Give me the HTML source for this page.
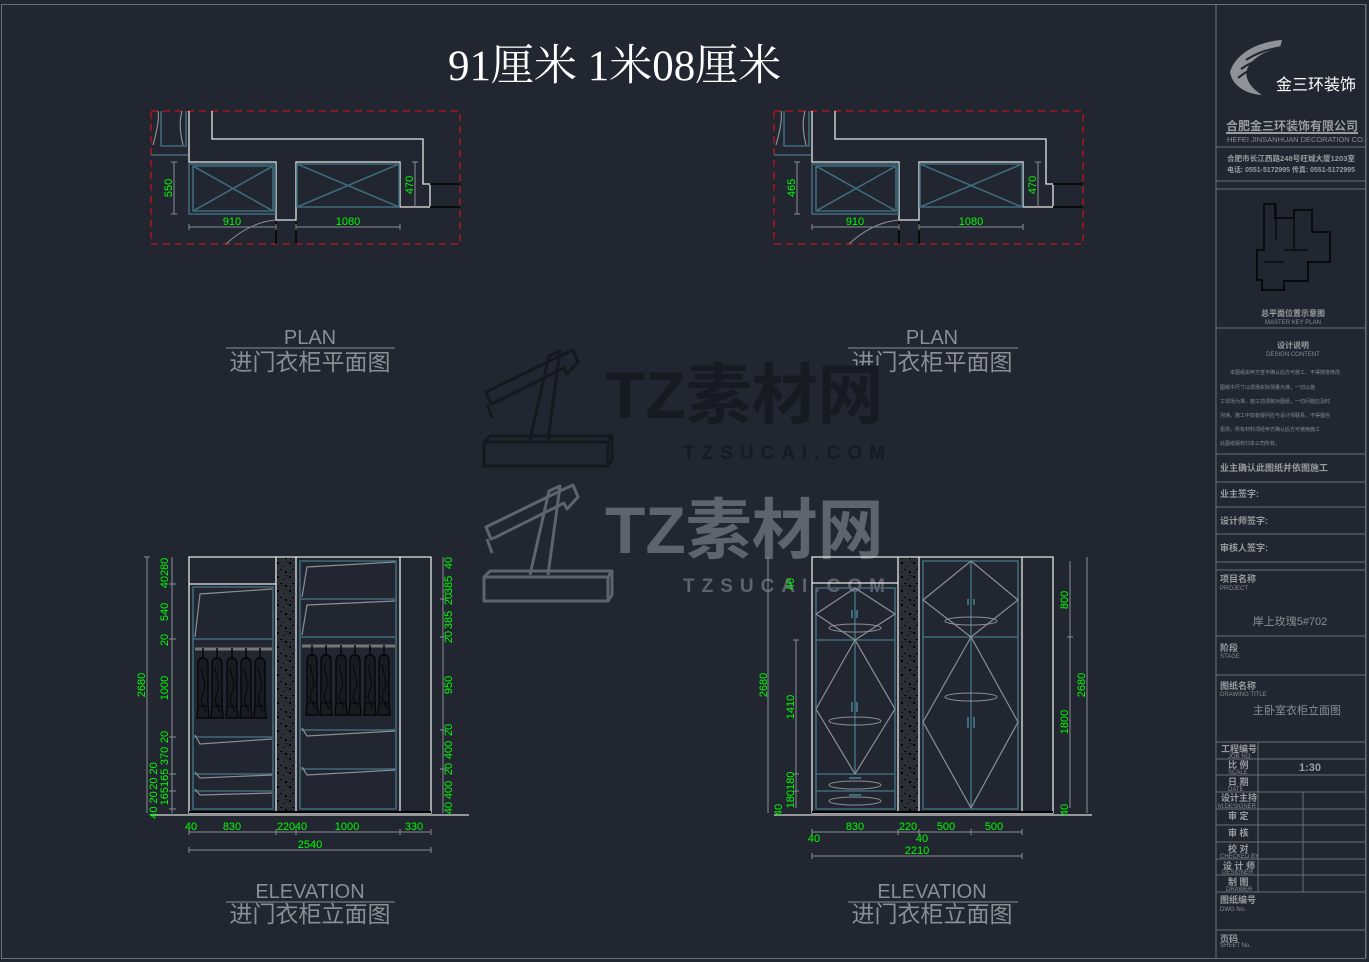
<!DOCTYPE html>
<html><head><meta charset="utf-8"><style>
html,body{margin:0;padding:0;background:#212630;}
svg{display:block;}
text{font-family:"Liberation Sans","Noto Sans CJK SC",sans-serif;}
.g{fill:#00ff00;font-size:11px;}
.w{stroke:#e6e6e6;stroke-width:1.3;fill:none;}
.gr{stroke:#8c8f94;stroke-width:1.2;fill:none;}
.t{stroke:#3f6a7a;stroke-width:1.6;fill:none;}
.dl{stroke:#8c8f94;stroke-width:1;fill:none;}
.tb{fill:#9a9c9f;font-size:9px;font-weight:bold;}
.ts{fill:#8a8c90;font-size:6px;}
</style></head><body>
<svg width="1369" height="962" viewBox="0 0 1369 962" xmlns="http://www.w3.org/2000/svg">
<defs>
<pattern id="sp" width="12" height="14" patternUnits="userSpaceOnUse">
<rect width="12" height="14" fill="#2a2e35"/>
<rect x="1" y="2" width="2" height="2" fill="#000"/><rect x="7" y="5" width="1" height="1" fill="#000"/>
<rect x="4" y="9" width="2" height="1" fill="#000"/><rect x="9" y="11" width="2" height="2" fill="#000"/>
<rect x="2" y="12" width="1" height="1" fill="#000"/><rect x="10" y="1" width="1" height="1" fill="#000"/>
</pattern>
<g id="cloth">
<path d="M0,-8 V2" stroke="#050608" stroke-width="1.5"/>
<path d="M-5,8 Q-5,2 0,2 Q5,2 5,8 L5,50 L6,62 L-6,62 L-5,50 Z" fill="#181b21" stroke="#050608" stroke-width="1.4"/>
<path d="M-2,12 L2,30 L-2,44 L3,56 M-5,50 H5" stroke="#050608" stroke-width="1" fill="none"/>
</g>
</defs>

<rect x="0" y="0" width="1369" height="962" fill="#212630"/>
<rect x="1.5" y="4.5" width="1364" height="954" fill="none" stroke="#6a6d72" stroke-width="1"/>
<line x1="1216" y1="4" x2="1216" y2="958" stroke="#6a6d72"/>

<text x="448" y="80" font-size="43" fill="#ffffff" style="font-family:'Liberation Serif','Noto Serif CJK SC',serif">91厘米 1米08厘米</text>

<!-- plans -->
<g id="pl">
<rect x="151" y="111" width="309" height="133" fill="none" stroke="#c0151b" stroke-width="1.3" stroke-dasharray="7,5"/>
<path class="w" d="M189,111 V162 H276 V220 H296 V162 H400 V207 H430 V184 H423 V139 H212 V111"/>
<path class="t" d="M161,111 V146 H186 V111 M151,155 H188 M189,164 H275 V214 H189 Z M193,166 H273 V211 H193 Z M193,166 L273,211 M273,166 L193,211 M297,164 H399 V207 H297 Z M297,164 L399,207 M399,164 L297,207"/>
<path class="gr" d="M153,145 Q160,120 158,111 M183,145 Q178,125 182,111"/>
<path stroke="#0a0b0e" stroke-width="2" d="M430,184 H460 M430,207 H460 M276,222 V244 M296,222 V244"/>
<path class="dl" d="M226,244 Q250,222 276,220 M174,162 V214 M171,162 H177 M171,214 H177 M189,227 H276 M296,227 H400 M189,224 V230 M276,224 V230 M296,224 V230 M400,224 V230 M415,162 V207 M412,162 H418"/>
<text class="g" x="232" y="225" text-anchor="middle">910</text>
<text class="g" x="348" y="225" text-anchor="middle">1080</text>
<text class="g" transform="translate(413,185) rotate(-90)" text-anchor="middle">470</text>
</g>
<text class="g" transform="translate(172,188) rotate(-90)" text-anchor="middle">550</text>
<use href="#pl" x="623"/>
<text class="g" transform="translate(795,188) rotate(-90)" text-anchor="middle">465</text>

<!-- labels -->
<g fill="#8b8e93" text-anchor="middle">
<text x="310" y="344" font-size="20">PLAN</text><line x1="226" y1="348" x2="395" y2="348" stroke="#8b8e93"/>
<text x="310" y="370" font-size="23">进门衣柜平面图</text>
<text x="932" y="344" font-size="20">PLAN</text><line x1="848" y1="348" x2="1018" y2="348" stroke="#8b8e93"/>
<text x="932" y="370" font-size="23">进门衣柜平面图</text>
<text x="310" y="898" font-size="20">ELEVATION</text><line x1="226" y1="902" x2="395" y2="902" stroke="#8b8e93"/>
<text x="310" y="922" font-size="23">进门衣柜立面图</text>
<text x="932" y="898" font-size="20">ELEVATION</text><line x1="848" y1="902" x2="1018" y2="902" stroke="#8b8e93"/>
<text x="932" y="922" font-size="23">进门衣柜立面图</text>
</g>

<!-- watermarks -->
<g id="wm" fill="none" stroke-width="3" stroke-linejoin="round">
<path d="M491,404 L486,392 L560,356 L573,350 L578,362 L567,374 L564,368 L496,402 Z M492,418 L487,404 M530,440 L549,356 L560,351 L548,440 M484,442 H608 V466 H484 Z M484,442 L490,436 H612 L608,442 M608,466 L612,460 V436"/>
</g>
<g stroke="#15181d"><use href="#wm"/></g>
<text x="605" y="418" font-size="66" font-weight="bold" fill="#171a20">TZ素材网</text>
<text x="683" y="459" font-size="19" font-weight="bold" fill="#171a20" letter-spacing="7">TZSUCAI.COM</text>
<g stroke="#5f636b"><use href="#wm" y="135"/></g>
<text x="605" y="553" font-size="66" font-weight="bold" fill="#5f636b">TZ素材网</text>
<text x="683" y="592" font-size="19" font-weight="bold" fill="#5f636b" letter-spacing="7">TZSUCAI.COM</text>

<!-- left elevation -->
<rect x="276" y="557" width="20" height="256" fill="url(#sp)"/>
<path class="w" d="M189,557 H431 V813 H189 Z M276,557 V813 M296,557 V813 M400,557 V813 M189,584 H276"/>
<line x1="151" y1="815" x2="469" y2="815" stroke="#bbb" stroke-width="1.5"/>
<line x1="189" y1="812" x2="431" y2="812" stroke="#000" stroke-width="2"/>
<path class="t" d="M193,587 H273 V809 H193 Z M193,639 H273 M193,737 H273 M193,774 H273 M193,791 H273"/>
<path class="t" d="M300,561 H396 V809 H300 Z M300,599 H396 M300,637 H396 M300,730 H396 M300,769 H396"/>
<path class="gr" d="M195,637 L200,594 L272,589 M195,735 L200,744 L272,739 M195,772 L200,778 L272,775 M195,789 L200,795 L272,793 M302,597 L307,567 L395,562 M302,635 L307,605 L395,601 M302,728 L307,736 L395,731 M302,767 L307,775 L395,770"/>
<line x1="195" y1="649" x2="272" y2="649" stroke="#777" stroke-width="3"/>
<line x1="302" y1="646" x2="395" y2="646" stroke="#777" stroke-width="3"/>
<g transform="translate(0,656)"><use href="#cloth" x="203"/><use href="#cloth" x="217"/><use href="#cloth" x="232"/><use href="#cloth" x="246"/><use href="#cloth" x="260"/></g>
<g transform="translate(0,653)"><use href="#cloth" x="312"/><use href="#cloth" x="326"/><use href="#cloth" x="341"/><use href="#cloth" x="355"/><use href="#cloth" x="370"/><use href="#cloth" x="384"/></g>
<path class="dl" d="M147,557 V813 M172,557 V813 M443,557 V813 M144,557 H150 M169,584 H176 M169,639 H176 M169,737 H176 M169,774 H176 M169,791 H176 M169,809 H176 M440,599 H446 M440,637 H446 M440,730 H446 M440,769 H446 M189,832 H431 M189,850 H431 M189,829 V835 M276,829 V835 M296,829 V835 M400,829 V835 M431,829 V835 M189,847 V853 M431,847 V853"/>
<g class="g" text-anchor="middle">
<text transform="translate(145,685) rotate(-90)">2680</text>
<text transform="translate(168,573) rotate(-90)">40280</text>
<text transform="translate(168,612) rotate(-90)">540</text>
<text transform="translate(168,640) rotate(-90)">20</text>
<text transform="translate(168,688) rotate(-90)">1000</text>
<text transform="translate(168,737) rotate(-90)">20</text>
<text transform="translate(168,756) rotate(-90)">370</text>
<text transform="translate(157,776) rotate(-90)">20 20</text>
<text transform="translate(168,787) rotate(-90)">165165</text>
<text transform="translate(157,805) rotate(-90)">40 20</text>
<text transform="translate(452,563) rotate(-90)">40</text>
<text transform="translate(452,585) rotate(-90)">385</text>
<text transform="translate(452,599) rotate(-90)">20</text>
<text transform="translate(452,620) rotate(-90)">385</text>
<text transform="translate(452,637) rotate(-90)">20</text>
<text transform="translate(452,685) rotate(-90)">950</text>
<text transform="translate(452,730) rotate(-90)">20</text>
<text transform="translate(452,750) rotate(-90)">400</text>
<text transform="translate(452,769) rotate(-90)">20</text>
<text transform="translate(452,790) rotate(-90)">400</text>
<text transform="translate(452,808) rotate(-90)">40</text>
<text x="191" y="830">40</text><text x="232" y="830">830</text><text x="286" y="830">220</text><text x="301" y="830">40</text><text x="347" y="830">1000</text><text x="414" y="830">330</text>
<text x="310" y="848">2540</text>
</g>

<!-- right elevation -->
<rect x="898" y="557" width="21" height="256" fill="url(#sp)"/>
<path class="w" d="M812,557 H1053 V813 H812 Z M898,557 V813 M919,557 V813 M1022,557 V813 M812,583 H898"/>
<line x1="774" y1="815" x2="1092" y2="815" stroke="#bbb" stroke-width="1.5"/>
<line x1="812" y1="812" x2="1053" y2="812" stroke="#000" stroke-width="2"/>
<path class="t" d="M816,588 H895 V809 H816 Z M816,640 H895 M816,774 H895 M816,791 H895 M855,588 V774 M923,561 H1018 V809 H923 Z M923,637 H1018 M971,561 V808"/>
<path class="gr" d="M855,588 L816,614 L855,640 L895,614 Z M855,640 L816,709 L855,774 L895,709 Z M971,561 L923,600 L971,637 L1018,600 Z M971,637 L923,722 L971,808 L1018,722 Z"/>
<g fill="none" stroke="#8c8f94" stroke-width="1">
<ellipse cx="855" cy="628" rx="26" ry="4"/><ellipse cx="855" cy="721" rx="26" ry="4"/><ellipse cx="855" cy="785" rx="26" ry="4"/><ellipse cx="855" cy="801" rx="26" ry="4"/>
<ellipse cx="971" cy="621" rx="26" ry="4"/><ellipse cx="971" cy="697" rx="26" ry="4"/></g>
<path stroke="#3f6a7a" stroke-width="2" d="M852,610 V618 M857,610 V618 M852,702 V712 M857,702 V712 M968,599 V605 M974,599 V605 M968,717 V728 M974,717 V728 M849,778 H861 M849,795 H861"/>
<path class="dl" d="M768,557 V813 M796,640 V808 M793,640 H799 M793,774 H799 M793,791 H799 M1070,561 V808 M1087,557 V813 M1067,637 H1073 M812,832 H1022 M812,829 V835 M898,829 V835 M919,829 V835 M971,829 V835 M1022,829 V835 M812,856 H1022 M812,853 V859 M1022,853 V859"/>
<g class="g" text-anchor="middle">
<text transform="translate(767,685) rotate(-90)">2680</text>
<text transform="translate(794,584) rotate(-90)">40</text>
<text transform="translate(794,707) rotate(-90)">1410</text>
<text transform="translate(794,790) rotate(-90)">180180</text>
<text transform="translate(782,810) rotate(-90)">40</text>
<text transform="translate(1068,600) rotate(-90)">800</text>
<text transform="translate(1068,722) rotate(-90)">1800</text>
<text transform="translate(1085,685) rotate(-90)">2680</text>
<text transform="translate(1068,810) rotate(-90)">40</text>
<text x="855" y="830">830</text><text x="908" y="830">220</text><text x="946" y="830">500</text><text x="994" y="830">500</text>
<text x="814" y="842">40</text><text x="922" y="842">40</text><text x="917" y="854">2210</text>
</g>

<!-- title block -->
<g stroke="#6a6d72" stroke-width="1" fill="none">
<path d="M1216,147 H1366 M1216,181 H1366 M1216,189 H1366 M1216,328 H1366 M1216,454 H1366 M1216,482 H1366 M1216,507 H1366 M1216,534 H1366 M1216,562 H1366 M1216,570 H1366 M1216,636 H1366 M1216,675 H1366 M1216,742 H1366 M1216,759 H1366 M1216,775 H1366 M1216,792 H1366 M1216,809 H1366 M1216,825 H1366 M1216,842 H1366 M1216,859 H1366 M1216,875 H1366 M1216,892 H1366 M1216,930 H1366 M1258,742 V892 M1303,792 V892 M1366,4 V958"/>
</g>
<g fill="#8f9296">
<path d="M1282,40 C1255,42 1235,55 1230,72 C1232,85 1245,94 1262,95 C1248,86 1242,74 1250,64 C1258,54 1270,50 1280,48 Z"/>
</g>
<g stroke="#212630" stroke-width="2" fill="none"><path d="M1246,60 C1258,52 1270,49 1282,47 M1241,69 C1254,60 1268,56 1281,54 M1238,78 C1250,68 1265,63 1280,61"/></g>
<text x="1276" y="90" font-size="16" fill="#ffffff">金三环装饰</text>
<text x="1226" y="130" font-size="12" font-weight="bold" fill="#9a9c9f" textLength="132" lengthAdjust="spacingAndGlyphs">合肥金三环装饰有限公司</text>
<line x1="1226" y1="133" x2="1358" y2="133" stroke="#9a9c9f" stroke-width="2"/>
<text x="1227" y="142" font-size="7" fill="#8a8c90" textLength="138" lengthAdjust="spacingAndGlyphs">HEFEI JINSANHUAN DECORATION CO.</text>
<text x="1227" y="161" font-size="7.5" font-weight="bold" fill="#9a9c9f" textLength="128" lengthAdjust="spacingAndGlyphs">合肥市长江西路248号旺城大厦1203室</text>
<text x="1227" y="172" font-size="7" font-weight="bold" fill="#9a9c9f" textLength="128" lengthAdjust="spacingAndGlyphs">电话: 0551-5172995  传真: 0551-5172995</text>
<path d="M1264,204 H1275 V218 H1294 V210 H1312 V232 H1330 V262 H1308 V281 H1284 V290 H1262 V280 H1257 V250 H1264 Z" fill="none" stroke="#0a0b0e" stroke-width="2"/>
<path d="M1276,204 V240 M1294,218 V250 M1284,250 H1308 M1264,262 H1284" stroke="#0a0b0e" stroke-width="1.5"/>
<text x="1293" y="316" font-size="8" font-weight="bold" fill="#9a9c9f" text-anchor="middle">总平面位置示意图</text>
<text x="1293" y="324" font-size="6" fill="#8a8c90" text-anchor="middle">MASTER KEY PLAN</text>
<text x="1293" y="348" font-size="8" font-weight="bold" fill="#9a9c9f" text-anchor="middle">设计说明</text>
<text x="1293" y="356" font-size="6" fill="#8a8c90" text-anchor="middle">DESIGN CONTENT</text>
<g font-size="5" fill="#8a8c90"><text x="1230" y="374">本图纸由甲方签字确认后方可施工，不得随意修改</text><text x="1220" y="389">图纸中尺寸以现场实际测量为准，一切以施</text><text x="1220" y="403">工现场为准，施工前须核对图纸，一切问题应及时</text><text x="1220" y="417">沟通。施工中如有疑问应与设计师联系，不得擅自</text><text x="1220" y="431">更改。所有材料须经甲方确认后方可使用施工</text><text x="1220" y="445">此图纸版权归本公司所有。</text></g>
<g class="tb"><text x="1220" y="471">业主确认此图纸并依图施工</text><text x="1220" y="497">业主签字:</text><text x="1220" y="524">设计师签字:</text><text x="1220" y="551">审核人签字:</text>
<text x="1220" y="582">项目名称</text><text x="1220" y="651">阶段</text><text x="1220" y="689">图纸名称</text>
<text x="1221" y="752">工程编号</text><text x="1228" y="768">比 例</text><text x="1228" y="785">日 期</text><text x="1221" y="801">设计主持</text><text x="1228" y="819">审 定</text><text x="1228" y="836">审 核</text><text x="1228" y="852">校 对</text><text x="1223" y="869">设 计 师</text><text x="1228" y="885">制 图</text>
<text x="1220" y="903">图纸编号</text><text x="1220" y="942">页码</text></g>
<g class="ts"><text x="1220" y="590">PROJECT</text><text x="1220" y="658">STAGE</text><text x="1220" y="696">DRAWING TITLE</text><text x="1228" y="758">JOB NO.</text><text x="1228" y="774">SCALE</text><text x="1228" y="791">DATE</text><text x="1218" y="808">M.DESIGNER</text><text x="1220" y="858">CHECKED BY</text><text x="1222" y="874">DESIGNER</text><text x="1226" y="891">DRAWER</text><text x="1220" y="911">DWG No.</text><text x="1220" y="947">SHEET No.</text></g>
<text x="1290" y="625" font-size="11" fill="#8b8e93" text-anchor="middle">岸上玫瑰5#702</text>
<text x="1297" y="714" font-size="11" fill="#8b8e93" text-anchor="middle">主卧室衣柜立面图</text>
<text x="1310" y="771" font-size="11" font-weight="bold" fill="#9a9c9f" text-anchor="middle">1:30</text>
</svg>
</body></html>
